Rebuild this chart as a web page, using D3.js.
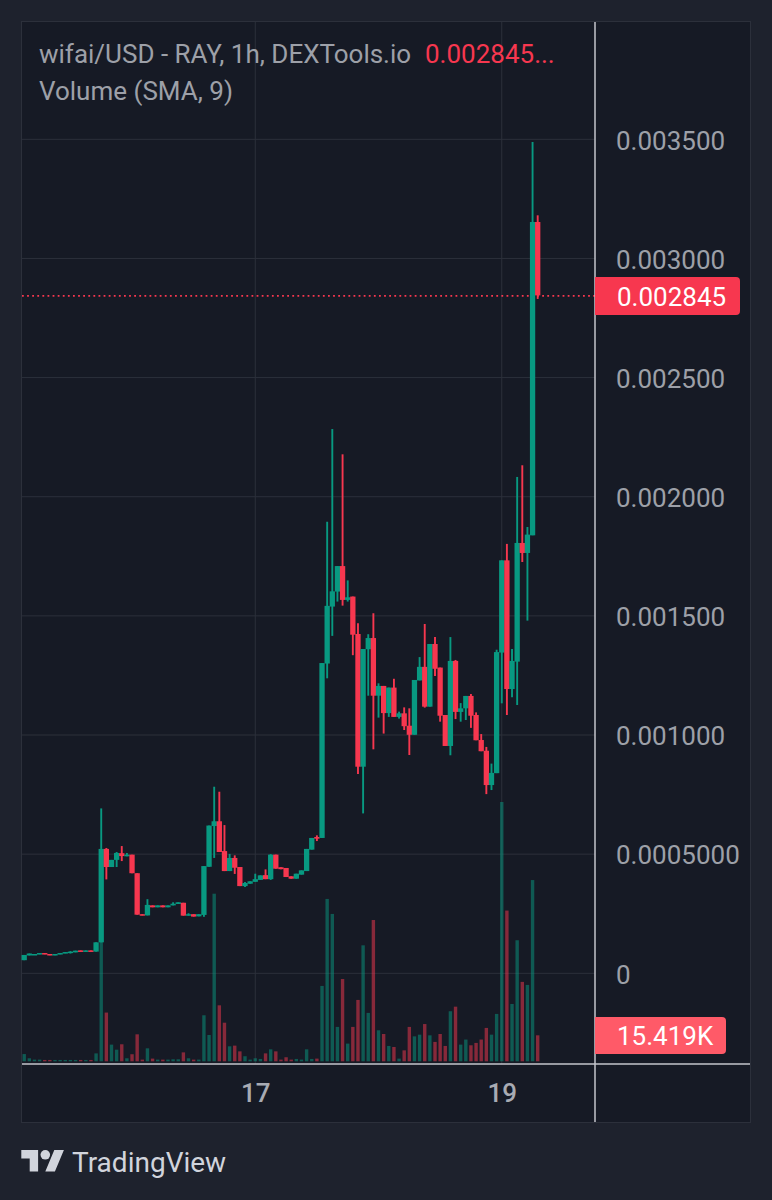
<!DOCTYPE html>
<html>
<head>
<meta charset="utf-8">
<title>wifai/USD</title>
<script src="https://cdn.jsdelivr.net/npm/d3@7"></script>
<style>
  html, body { margin: 0; padding: 0; background: #1e222d; }
  svg { display: block; }
  text { font-family: Roboto, sans-serif; }
</style>
</head>
<body>
<div id="chart"></div>
<script>
// prices are in millionths of a USD, volumes in thousands
const opens = [55,75,77,80,85,81,76,80,84,85,88,96,91,96,91,130,522,446,476,504,491,498,420,248,243,285,277,285,277,285,291,296,242,248,239,245,447,618,638,513,429,484,446,366,376,384,392,412,395,498,445,442,407,397,414,429,519,572,568,1300,1539,1602,1709,1567,1581,1424,867,1360,1407,1165,1206,1092,1199,1076,1091,1039,1001,1229,1286,1119,1382,1283,1084,954,1311,1097,1112,1164,1084,979,934,790,840,1346,1733,1193,1308,1806,1764,1838,3153];
const closes = [77,83,81,85,80,76,81,85,89,91,95,91,96,91,130,522,446,476,505,492,498,420,246,243,287,277,285,277,285,292,298,242,248,238,248,450,620,638,509,429,484,443,366,379,386,395,411,395,498,439,437,404,397,418,432,522,568,565,1302,1542,1603,1709,1567,1578,1421,867,1361,1407,1165,1206,1092,1199,1076,1091,1037,1001,1231,1286,1119,1382,1278,1081,954,1311,1097,1112,1164,1081,978,932,790,841,1348,1733,1193,1311,1806,1764,1841,3153,2845];
const highs = [77,83,81,85,85,81,81,85,89,93,95,96,96,96,130,692,526,476,509,534,505,498,420,248,311,285,285,285,285,298,298,296,252,248,248,450,620,783,762,622,501,495,446,383,386,418,411,436,500,498,445,442,407,418,432,522,568,579,1302,1895,2284,1709,2178,1649,1581,1469,1361,1423,1511,1217,1206,1199,1236,1098,1116,1112,1231,1327,1466,1382,1411,1283,1084,1411,1315,1134,1164,1172,1095,1004,950,880,1358,1733,1802,1361,2083,2132,1873,3489,3181];
const lows = [55,75,77,80,80,76,76,80,84,83,88,91,91,91,91,130,394,446,446,471,491,420,246,243,243,277,277,277,277,285,291,242,242,238,239,237,447,484,509,429,429,417,366,362,376,384,392,395,392,439,437,404,397,397,414,429,519,555,568,1238,1416,1560,1543,1560,1335,836,671,1165,940,1073,1006,1076,1076,1069,1021,916,1001,1229,1115,1119,1248,1056,954,915,1067,1056,1063,1030,978,932,752,769,840,1133,1084,1158,1126,1726,1480,1838,2830];
const volumes = [4.3,1.8,1,1,0.8,0.8,0.8,0.8,0.8,0.8,0.8,0.8,0.8,0.8,4.7,92,28.9,9.9,6.9,10.1,1.8,4.2,16,1,7.7,1.6,1,1,1,1.2,1.2,5.3,1.8,1,1,27.3,15.6,99.4,33.2,22.9,8.9,9.3,5.9,3,1,1.8,1.4,4.7,7.1,5.9,1,2.4,1,1.4,1,7.1,1.4,1.6,44.7,96.3,87.4,20.4,48.8,10.5,20.4,36.4,68.8,28.7,83.8,18.4,16.2,9.1,8.5,1.6,6.5,20.4,14.8,15.8,22.1,15.4,11.5,16.2,9.1,29.7,32.4,9.9,12.9,9.5,10.9,12.9,19.8,15.8,28.1,153.8,89.4,34,71.8,47.1,45.3,107.5,15.419];

const priceTicks = [0, 500, 1000, 1500, 2000, 2500, 3000, 3500];
const priceLabels = ["0", "0.0005000", "0.001000", "0.001500", "0.002000", "0.002500", "0.003000", "0.003500"];
const dayTicks = [0, 48]; // hours after the 17th 00:00
const dayLabels = ["17", "19"];
const firstHour = -45;

const lastPrice = "0.002845";
const lastVolume = "15.419K";

const upColor = "#089981";
const downColor = "#f7374f";
const gridColor = "#2c303b";
const textColor = "#9da0a8";
const axisLineColor = "#c4c6cc";

const svg = d3.select("#chart").append("svg")
  .attr("width", 772)
  .attr("height", 1200);

// 1. scales
const x = d3.scaleLinear().domain([-45, 55]).range([24.2, 537.7]);
const y = d3.scaleLinear().domain([0, 3500]).range([973.3, 139.3]);
const yVol = d3.scaleLinear().domain([0, 100]).range([1061.3, 892.7]);

const candles = opens.map((o, i) => ({
  hour: firstHour + i,
  open: o,
  close: closes[i],
  high: highs[i],
  low: lows[i],
  volume: volumes[i]
}));
const colorOf = d => d.close >= d.open ? upColor : downColor;

// 2. background
svg.append("rect").attr("width", 772).attr("height", 1200).attr("fill", "#1e222d");
svg.append("rect")
  .attr("x", 21.5).attr("y", 21.5)
  .attr("width", 729).attr("height", 1101)
  .attr("fill", "#161a25")
  .attr("stroke", gridColor)
  .attr("stroke-width", 1);

// 3. grid
svg.append("g").selectAll("line")
  .data(priceTicks)
  .join("line")
  .attr("x1", 22).attr("x2", 595)
  .attr("y1", d => y(d)).attr("y2", d => y(d))
  .attr("stroke", gridColor);
svg.append("g").selectAll("line")
  .data(dayTicks)
  .join("line")
  .attr("x1", d => x(d)).attr("x2", d => x(d))
  .attr("y1", 22).attr("y2", 1064)
  .attr("stroke", gridColor);

// 4. volume under the candles
svg.append("g").selectAll("rect")
  .data(candles)
  .join("rect")
  .attr("x", d => x(d.hour) - 1.7)
  .attr("width", 3.4)
  .attr("y", d => yVol(d.volume))
  .attr("height", d => yVol(0) - yVol(d.volume))
  .attr("fill", colorOf)
  .attr("fill-opacity", 0.5);

// last price line
svg.append("line")
  .attr("x1", 22).attr("x2", 595)
  .attr("y1", y(2845) + 0.4).attr("y2", y(2845) + 0.4)
  .attr("stroke", downColor)
  .attr("stroke-width", 1.8)
  .attr("stroke-dasharray", "1.8 3.3");

// 5. candles
const candle = svg.append("g").selectAll("g")
  .data(candles)
  .join("g");
candle.append("line")
  .attr("x1", d => x(d.hour)).attr("x2", d => x(d.hour))
  .attr("y1", d => y(d.high)).attr("y2", d => y(d.low))
  .attr("stroke", colorOf)
  .attr("stroke-width", 1.9);
candle.append("rect")
  .attr("x", d => x(d.hour) - 2.65)
  .attr("width", 5.3)
  .attr("y", d => y(Math.max(d.open, d.close)))
  .attr("height", d => Math.max(1.5, Math.abs(y(d.open) - y(d.close))))
  .attr("fill", colorOf);

// 6. axes
const yAxis = d3.axisRight(y)
  .tickValues(priceTicks)
  .tickFormat((d, i) => priceLabels[i])
  .tickSize(0)
  .tickPadding(0);
const yAxisG = svg.append("g")
  .attr("transform", "translate(616,1.5)")
  .call(yAxis);
yAxisG.select(".domain").remove();
yAxisG.selectAll("text")
  .attr("font-family", "Roboto, sans-serif")
  .attr("font-size", 26)
  .attr("fill", textColor);

const xAxis = d3.axisBottom(x)
  .tickValues(dayTicks)
  .tickFormat((d, i) => dayLabels[i])
  .tickSize(0)
  .tickPadding(0);
const xAxisG = svg.append("g")
  .attr("transform", "translate(0,1084)")
  .call(xAxis);
xAxisG.select(".domain").remove();
xAxisG.selectAll("text")
  .attr("font-family", "Roboto, sans-serif")
  .attr("font-size", 26)
  .attr("font-weight", 500)
  .attr("fill", "#a8abb3");

// scale lines
svg.append("line")
  .attr("x1", 595).attr("x2", 595).attr("y1", 22).attr("y2", 1122)
  .attr("stroke", axisLineColor).attr("stroke-width", 1.5);
svg.append("line")
  .attr("x1", 22).attr("x2", 750).attr("y1", 1064).attr("y2", 1064)
  .attr("stroke", axisLineColor).attr("stroke-width", 1.5);

// 7. value badges on the scale
function badge(width, top, height, fill, label) {
  svg.append("path")
    .attr("d", `M595,${top}H${595 + width - 4}a4,4 0 0 1 4,4V${top + height - 4}a4,4 0 0 1 -4,4H595Z`)
    .attr("fill", fill);
  svg.append("text")
    .attr("x", 617)
    .attr("y", top + height / 2 + 9.5)
    .attr("font-size", 26)
    .attr("fill", "#ffffff")
    .text(label);
}
badge(145, 277, 38, downColor, lastPrice);
badge(131, 1017, 37, "#ff5a68", lastVolume);

// 8. legend
svg.append("text").attr("x", 39).attr("y", 63)
  .attr("font-size", 26).attr("fill", textColor)
  .text("wifai/USD - RAY, 1h, DEXTools.io");
svg.append("text").attr("x", 425).attr("y", 63)
  .attr("font-size", 26).attr("fill", downColor)
  .text("0.002845...");
svg.append("text").attr("x", 39).attr("y", 100)
  .attr("font-size", 26).attr("fill", textColor)
  .text("Volume (SMA, 9)");

// 9. TradingView logo
const logo = svg.append("g")
  .attr("transform", "translate(21.3,1145.2) scale(1.2)")
  .attr("fill", "#d1d4dc");
logo.append("path").attr("d", "M14 22H7V11H0V4h14v18zM28 22h-8l7.5-18h8L28 22z");
logo.append("circle").attr("cx", 20).attr("cy", 8).attr("r", 4);
svg.append("text").attr("x", 72).attr("y", 1172)
  .attr("font-size", 28).attr("fill", "#d1d4dc")
  .text("TradingView");
</script>
</body>
</html>
